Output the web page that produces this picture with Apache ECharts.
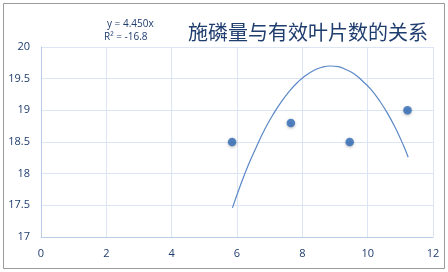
<!DOCTYPE html>
<html><head><meta charset="utf-8">
<style>html,body{margin:0;padding:0;background:#fff;}#c{width:448px;height:272px;}</style>
<script src="https://cdn.jsdelivr.net/npm/echarts@6/dist/echarts.min.js"></script>
</head><body><div id="c"></div>
<script>
var titleText = '施磷量与有效叶片数的关系';
var eqLine1 = 'y = 4.450x';
var eqLine2 = 'R² = -16.8';
var pointX = [5.85, 7.65, 9.45, 11.22];
var pointY = [18.5, 18.8, 18.5, 19.0];
var trendX = [5.86, 6.1, 6.35, 6.6, 6.85, 7.1, 7.35, 7.6, 7.85, 8.1, 8.35, 8.6, 8.85, 9.1, 9.35, 9.6, 9.85, 10.1, 10.35, 10.6, 10.85, 11.1, 11.24];
var trendY = [17.46, 17.81, 18.14, 18.43, 18.70, 18.93, 19.13, 19.30, 19.44, 19.55, 19.63, 19.68, 19.70, 19.69, 19.64, 19.57, 19.46, 19.33, 19.16, 18.96, 18.72, 18.44, 18.26];
var xTicks = {min: 0, max: 12, interval: 2};
var yTicks = {min: 17, max: 20, interval: 0.5};

var pts = pointX.map(function(x, i){ return [x, pointY[i]]; });
var trend = trendX.map(function(x, i){ return [x, trendY[i]]; });
var navy = '#1f3d6e';
var chart = echarts.init(document.getElementById('c'), null, {renderer: 'canvas'});
chart.setOption({
  animation: false,
  backgroundColor: '#fff',
  grid: {left: 41, right: 15, top: 47, bottom: 35},
  title: {
    text: titleText, right: 15, top: 17,
    textStyle: {fontFamily: 'Noto Sans CJK SC', fontSize: 20, fontWeight: 'normal', color: navy}
  },
  graphic: [
    {type: 'rect', shape: {x: 3.5, y: 3.5, width: 441, height: 265}, z: -1,
     style: {fill: 'none', stroke: '#9a9a9a', lineWidth: 1}},
    {type: 'text', left: 107, top: 19, style: {text: eqLine1, font: '10px "Open Sans"', fill: navy}},
    {type: 'text', left: 104, top: 32, style: {text: eqLine2, font: '10px "Open Sans"', fill: navy}}
  ],
  xAxis: {
    type: 'value', min: xTicks.min, max: xTicks.max, interval: xTicks.interval,
    axisLine: {show: true, onZero: false, lineStyle: {color: '#b9cde8'}},
    axisTick: {show: false},
    axisLabel: {color: navy, fontFamily: 'Open Sans', fontSize: 11, margin: 11},
    splitLine: {show: true, lineStyle: {color: '#dbe5f3'}}
  },
  yAxis: {
    type: 'value', min: yTicks.min, max: yTicks.max, interval: yTicks.interval,
    axisLine: {show: true, lineStyle: {color: '#b9cde8'}},
    axisTick: {show: false},
    axisLabel: {color: navy, fontFamily: 'Open Sans', fontSize: 11, margin: 11,
      formatter: function(v){ return String(v); }},
    splitLine: {show: true, lineStyle: {color: '#dbe5f3'}}
  },
  series: [
    {type: 'line', data: trend, smooth: true, showSymbol: false, symbol: 'none',
     lineStyle: {color: '#5a88c6', width: 1.2}, z: 2},
    {type: 'scatter', data: pts, symbolSize: 8.5,
     itemStyle: {color: '#2f6bb8', shadowBlur: 3, shadowColor: 'rgba(0,0,0,0.35)', shadowOffsetY: 1}, z: 3}
  ]
});
</script></body></html>
